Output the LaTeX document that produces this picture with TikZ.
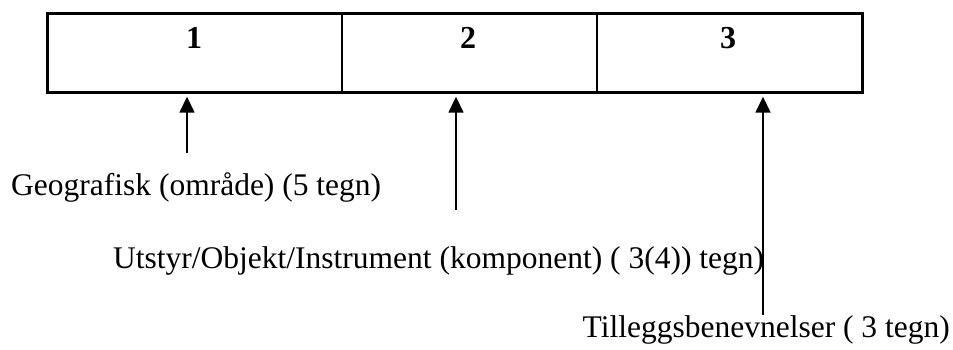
\documentclass[tikz,border=0pt]{standalone}
\usepackage{fontspec}
\setmainfont{Liberation Serif}
\usetikzlibrary{arrows.meta}
\begin{document}
\begin{tikzpicture}[x=1pt,y=-1pt,
  cell/.style={draw,line width=1.7pt,minimum height=78pt,inner sep=0pt,anchor=north west},
  digit/.style={anchor=base,inner sep=0pt,font=\fontsize{32}{38}\selectfont\bfseries},
  caption/.style={inner sep=0pt,font=\fontsize{31.5}{38}\selectfont},
  pointer/.style={line width=1.6pt,-{Triangle[length=16pt,width=15pt]},shorten >=4pt}]
\useasboundingbox (0,0) rectangle (953,349);
% three fields of the code
\node[cell,minimum width=294pt] (c1) at (47,13) {};
\node[cell,minimum width=255pt] (c2) at (341,13) {};
\node[cell,minimum width=265pt] (c3) at (596,13) {};
\draw[line width=2.2pt] (c1.north west) rectangle (c3.south east);
\node[digit] (n1) at (194,48) {1};
\node[digit] (n2) at (468,48) {2};
\node[digit] (n3) at (728,48) {3};
% descriptions
\node[caption,anchor=base west] (l1) at (11,195) {Geografisk (område) (5 tegn)};
\node[caption,anchor=base west] (l2) at (113,268) {Utstyr/Objekt/Instrument (komponent) ( 3(4)) tegn)};
\node[caption,anchor=base east] (l3) at (950,337) {Tilleggsbenevnelser ( 3 tegn)};
% pointers to the fields
\coordinate (t1) at (187,153);
\coordinate (t2) at (456,210);
\coordinate (t3) at (763,315);
\draw[pointer] (t1) -- (c1.south -| t1);
\draw[pointer] (t2) -- (c2.south -| t2);
\draw[pointer] (t3) -- (c3.south -| t3);
\end{tikzpicture}
\end{document}
